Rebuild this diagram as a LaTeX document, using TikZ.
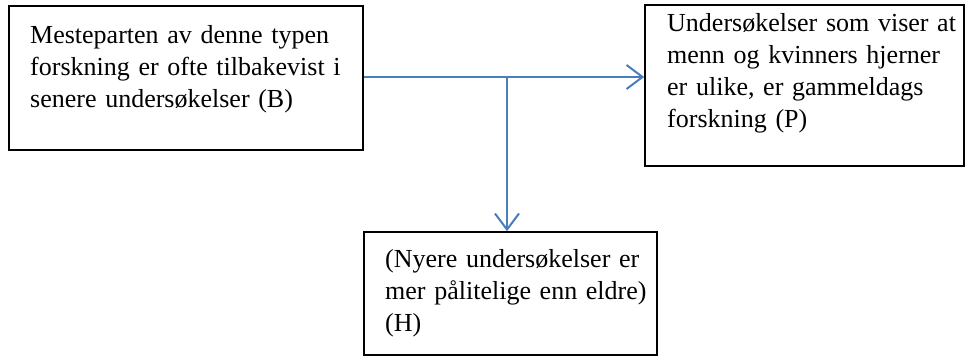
\documentclass[tikz,border=0pt]{standalone}
\usepackage{fontspec}
\setmainfont{Liberation Serif}
\usetikzlibrary{arrows.meta}
\definecolor{arrowblue}{HTML}{4A7EBB}
\begin{document}
\begin{tikzpicture}[x=1pt,y=-1pt,
  box/.style={draw=black,line width=1.6pt,rectangle,inner sep=0pt},
  txt/.style={anchor=north west,inner sep=0pt,align=left,text width=#1,
    font=\fontsize{26}{32}\selectfont},
  conn/.style={draw=arrowblue,line width=2pt,
    -{Straight Barb[length=16pt,width=24pt,line width=2pt]}}]
\useasboundingbox (0,0) rectangle (970,358);
\node[box,minimum width=354pt,minimum height=144pt] (b) at (186,78) {};
\node[box,minimum width=319pt,minimum height=161pt] (p) at (804.5,85.5) {};
\node[box,minimum width=293pt,minimum height=123pt] (h) at (510.5,293.5) {};
\node[txt=330pt] (bt) at (30,20.6) {\strut Mesteparten av denne typen\\forskning er ofte tilbakevist i\\senere undersøkelser (B)};
\node[txt=300pt] (pt) at (667,9) {\strut Undersøkelser som viser at\\menn og kvinners hjerner\\er ulike, er gammeldags\\forskning (P)};
\node[txt=280pt] (ht) at (385,245) {\strut (Nyere undersøkelser er\\mer pålitelige enn eldre)\\(H)};
\coordinate (j) at (507,77);
\draw[conn] (b.east |- j) -- (p.west |- j);
\draw[conn] (j) -- (j |- h.north);
\end{tikzpicture}
\end{document}
